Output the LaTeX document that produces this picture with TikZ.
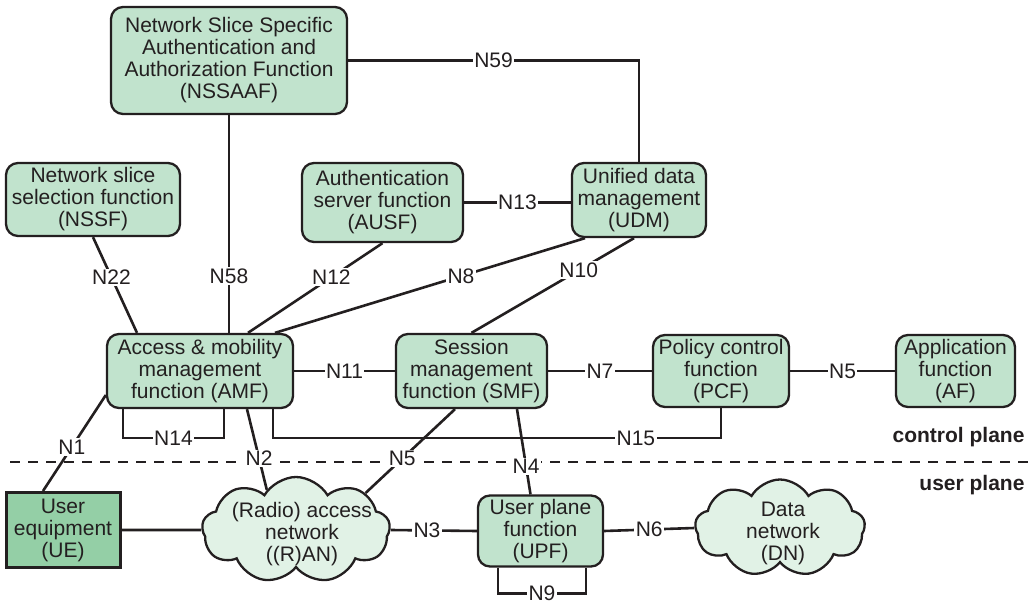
\documentclass[tikz,border=0pt]{standalone}
\usepackage{fontspec}
\setmainfont{Liberation Sans}
\usetikzlibrary{shapes.symbols, positioning}

\definecolor{nfgreen}{HTML}{C1E3CD}
\definecolor{uegreen}{HTML}{94CFA6}
\definecolor{cloudgreen}{HTML}{E1F2E6}
\definecolor{inkgray}{HTML}{231F20}

\begin{document}
\begin{tikzpicture}[
        x=1pt, y=-1pt,
        nf/.style={rectangle, rounded corners=12pt, draw=inkgray, line width=2.3pt, fill=nfgreen, align=center, inner sep=0pt, text=inkgray, font=\fontsize{21}{22}\selectfont},
        ue/.style={nf, rounded corners=0pt, fill=uegreen, line width=3pt},
        net/.style={cloud, cloud puffs=9, cloud puff arc=120, aspect=1.8, draw=inkgray, line width=2.3pt, fill=cloudgreen, inner sep=0pt},
        txt/.style={align=center, text=inkgray, font=\fontsize{21}{22}\selectfont},
        link/.style={draw=inkgray, line width=2.6pt},
        ref/.style={fill=white, inner sep=1.5pt, text=inkgray, font=\fontsize{21}{22}\selectfont},
        plane/.style={anchor=east, text=inkgray, font=\fontsize{21}{22}\selectfont\bfseries},
        ]
        \useasboundingbox (0,0) rectangle (1033,604);

        % Control plane functions (top rows)
        \node[nf, minimum width=236pt, minimum height=107pt] (nssaaf) at (229,60.5) {Network Slice Specific\\Authentication and\\Authorization Function\\(NSSAAF)};
        \node[nf, minimum width=174pt, minimum height=73pt] (nssf) at (93,199.5) {Network slice\\selection function\\(NSSF)};
        \node[nf, minimum width=161pt, minimum height=79pt] (ausf) at (382.5,202.5) {Authentication\\server function\\(AUSF)};
        \node[nf, minimum width=134pt, minimum height=74pt] (udm) at (639,200) {Unified data\\management\\(UDM)};

        \node[nf, minimum width=186pt, minimum height=74pt] (amf) at (200,371) {Access \& mobility\\management\\function (AMF)};
        \node[nf, minimum width=151pt, minimum height=74pt] (smf) at (471.5,371) {Session\\management\\function (SMF)};
        \node[nf, minimum width=136pt, minimum height=72pt] (pcf) at (721,371) {Policy control\\function\\(PCF)};
        \node[nf, minimum width=119pt, minimum height=72pt] (af) at (955.5,371) {Application\\function\\(AF)};

        % Plane split
        \coordinate (splitw) at (10,462);
        \coordinate (splite) at (1033,462);
        \draw[inkgray, line width=2.2pt, dash pattern=on 10pt off 8pt] (splitw) -- (splite);
        \node[plane] (cplane) at (1028,437) {control plane};
        \node[plane] (uplane) at (1028,485) {user plane};

        % User plane (bottom row)
        \node[ue, minimum width=114pt, minimum height=75pt] (ue) at (63,530) {User\\equipment\\(UE)};
        \node[net, minimum width=188pt, minimum height=106pt] (ran) at (296,530) {};
        \node[txt] (rantext) at (302,534) {(Radio) access\\network\\((R)AN)};
        \node[nf, minimum width=125pt, minimum height=71pt] (upf) at (540.5,531) {User plane\\function\\(UPF)};
        \node[net, minimum width=170pt, minimum height=97pt] (dn) at (780,528) {};
        \node[txt] (dntext) at (783,533) {Data\\network\\(DN)};

        % Reference points
        \draw[link] (nssaaf.east) -| node[ref, pos=0.25] {N59} (udm.north);
        \draw[link] (nssaaf.south) -- node[ref, pos=0.74] {N58} (nssaaf.south |- amf.north);
        \draw[link] (nssf.south) -- node[ref, pos=0.42] {N22} ([xshift=-63pt]amf.north);
        \draw[link] (ausf.south) -- node[ref, pos=0.38] {N12} ([xshift=48pt]amf.north);
        \draw[link] (ausf.east) -- node[ref] {N13} (ausf.east -| udm.west);
        \draw[link] ([xshift=-54pt]udm.south) -- node[ref, pos=0.4] {N8} ([xshift=75pt]amf.north);
        \draw[link] ([xshift=-5pt]udm.south) -- node[ref, pos=0.34] {N10} (smf.north);
        \draw[link] (amf) -- node[ref] {N11} (smf);
        \draw[link] (smf) -- node[ref] {N7} (pcf);
        \draw[link] (pcf) -- node[ref] {N5} (af);
        \draw[link] ([xshift=-77pt]amf.south) -- ++(0,29) -| node[ref, pos=0.25] {N14} ([xshift=24pt]amf.south);
        \draw[link] ([xshift=73pt]amf.south) -- ++(0,29) -| node[ref, pos=0.405] {N15} (pcf.south);
        \draw[link] ([yshift=-24pt]amf.west) -- node[ref, pos=0.54] {N1} ([xshift=-20pt]ue.north);
        \draw[link] ([xshift=47pt]amf.south) -- node[ref, pos=0.61] {N2} (ran.126);
        \draw[link] ([xshift=-16.5pt]smf.south) -- node[ref, pos=0.59] {N5} (ran.28);
        \draw[link] ([xshift=45.5pt]smf.south) -- node[ref, pos=0.67] {N4} ([xshift=-10pt]upf.north);
        \draw[link] (ue.east) -- (ran.west);
        \draw[link] (ran.east) -- node[ref, pos=0.42] {N3} (upf.west);
        \draw[link] (upf.east) -- node[ref] {N6} (dn.west);
        \draw[link] ([xshift=-42.5pt]upf.south) -- ++(0,26) -| node[ref, pos=0.25] {N9} ([xshift=45.5pt]upf.south);

    \end{tikzpicture}
\end{document}
